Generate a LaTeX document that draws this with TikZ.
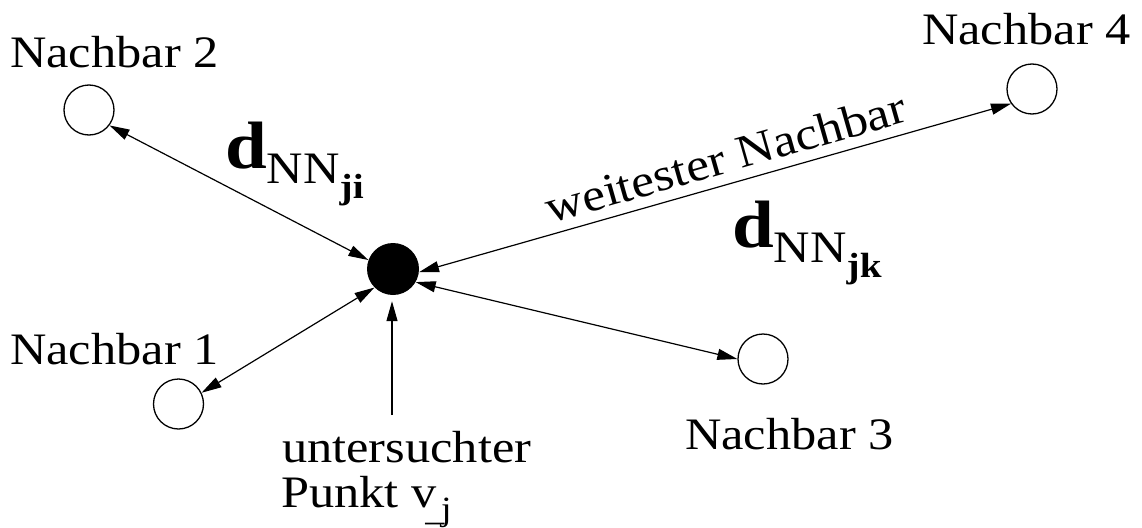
\documentclass[tikz,border=0pt]{standalone}
\usepackage{fontspec}
\setmainfont{Liberation Serif}
\usetikzlibrary{arrows.meta}
\newcommand{\W}[1]{\scalebox{1.12}[1]{#1}}
\newcommand{\dlabel}[1]{\W{\fontsize{67}{67}\selectfont\bfseries d\raisebox{-15pt}{\fontsize{45}{45}\selectfont\mdseries NN\raisebox{-15pt}{\fontsize{35}{35}\selectfont\bfseries #1}}}}
\begin{document}
\begin{tikzpicture}[x=1pt,y=-1pt,
  nb/.style={circle,draw,line width=1.3pt,minimum size=50pt,inner sep=0pt},
  ctr/.style={circle,fill=black,minimum size=52pt,inner sep=0pt},
  lbl/.style={inner sep=0pt,anchor=base west,font=\fontsize{45}{54}\selectfont},
  con/.style={line width=1.2pt,{Triangle[length=20pt,width=11pt]}-{Triangle[length=20pt,width=11pt]}},
  ]
\useasboundingbox (0,0) rectangle (1142,527);
\node[ctr] (c) at (393,269) {};
\node[nb] (n2) at (89,110) {};
\node[nb] (n1) at (178.5,404) {};
\node[nb] (n3) at (763,359) {};
\node[nb] (n4) at (1032,89) {};
\coordinate (v) at (392,415);

\draw[con] (n2.-37) -- (c.160);
\draw[con] (n1.26) -- (c.225);
\draw[con] (n3.180) -- (c.330);
\draw[con] (n4.215) -- (c.-7)
  node[pos=0.47,sloped,anchor=base,inner sep=0pt,font=\fontsize{46}{54}\selectfont] (wn) {\raisebox{11pt}{\W{weitester Nachbar}}};
\draw[line width=1.2pt,-{Triangle[length=20pt,width=11pt]},shorten >=6pt] (v) -- (v |- c.south);

\node[lbl] (l2) at (10,67) {\W{Nachbar 2}};
\node[lbl] (l1) at (10,364) {\W{Nachbar 1}};
\node[lbl] (l3) at (685,449) {\W{Nachbar 3}};
\node[lbl] (l4) at (922,45) {\W{Nachbar 4}};
\node[lbl] (lu) at (282,462) {\W{untersuchter}};
\node[lbl] (lp) at (281,507) {\W{Punkt v\raisebox{-13pt}{\fontsize{34}{34}\selectfont\kern-10pt\_\kern-3pt j}}};

\node[lbl] (dji) at (225,168) {\dlabel{ji}};
\node[lbl] (djk) at (732,247) {\dlabel{jk}};
\end{tikzpicture}
\end{document}
